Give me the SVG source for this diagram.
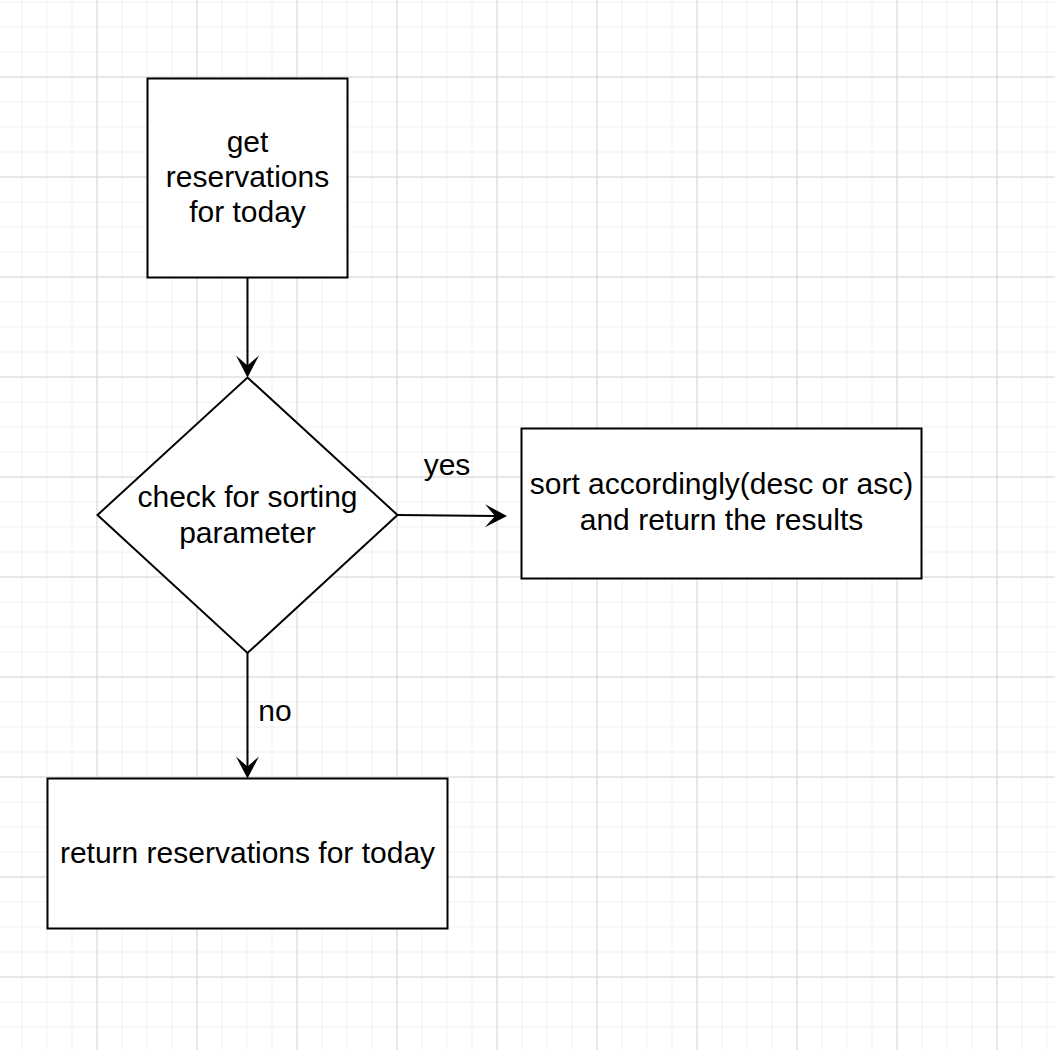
<svg xmlns="http://www.w3.org/2000/svg" width="1055" height="1050" viewBox="0 0 1055 1050">
<defs>
<pattern id="minor" x="-3.5" y="1.5" width="25" height="25" patternUnits="userSpaceOnUse">
<path d="M0.5,0 V25 M0,0.5 H25" stroke="#f0f0f0" stroke-width="1" fill="none"/>
</pattern>
<pattern id="major" x="-3.5" y="76.5" width="100" height="100" patternUnits="userSpaceOnUse">
<path d="M0.5,0 V100 M0,0.5 H100" stroke="#d5d5d5" stroke-width="1" fill="none"/>
</pattern>
<marker id="arrow" markerUnits="userSpaceOnUse" markerWidth="30" markerHeight="30" refX="0" refY="0" orient="auto" overflow="visible">
<path d="M10,0 L-12,-11.5 L-2,0 L-12,11.5 Z" fill="#000"/>
</marker>
</defs>
<style>
.node{fill:#fff;stroke:#000;stroke-width:2}
.lbl{font-family:"Liberation Sans",Arial,sans-serif;font-size:30px;fill:#000;text-anchor:middle}
.edge{fill:none;stroke:#000;stroke-width:2;marker-end:url(#arrow)}
</style>
<rect width="1055" height="1050" fill="#fff"/>
<rect width="1055" height="1050" fill="url(#minor)"/>
<rect width="1055" height="1050" fill="url(#major)"/>
<g id="connectors">
<path class="edge" d="M247.5,277.5 L247.5,367.5"/>
<path class="edge" d="M397.5,515 L497,515.9"/>
<path class="edge" d="M247.5,653 L247.5,768.5"/>
<text class="lbl" x="447" y="475">yes</text>
<text class="lbl" x="275" y="721">no</text>
</g>
<g id="get-reservations">
<rect class="node" x="147.5" y="78.5" width="200" height="199"/>
<text class="lbl" x="247.5" y="152">get</text>
<text class="lbl" x="247.5" y="187">reservations</text>
<text class="lbl" x="247.5" y="222">for today</text>
</g>
<g id="check-sorting">
<path class="node" d="M247.5,377.5 L397.5,515 L247.5,653 L97.5,515 Z"/>
<text class="lbl" x="247.5" y="507">check for sorting</text>
<text class="lbl" x="247.5" y="543">parameter</text>
</g>
<g id="sort-results">
<rect class="node" x="521.5" y="428.5" width="400" height="150"/>
<text class="lbl" x="721.5" y="494">sort accordingly(desc or asc)</text>
<text class="lbl" x="721.5" y="530">and return the results</text>
</g>
<g id="return-reservations">
<rect class="node" x="47.5" y="778.5" width="400" height="150"/>
<text class="lbl" x="247.5" y="863">return reservations for today</text>
</g>
</svg>
